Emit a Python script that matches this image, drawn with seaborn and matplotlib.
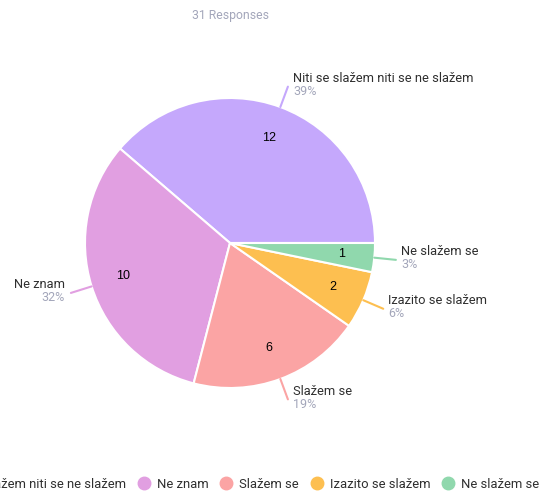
import numpy as np
import matplotlib.pyplot as plt
from matplotlib.lines import Line2D
import seaborn as sns

# data
categories = ["Niti se slažem niti se ne slažem", "Ne znam", "Slažem se",
              "Izazito se slažem", "Ne slažem se"]
counts = [12, 10, 6, 2, 1]
colors = ["#c5a8fc", "#e19fe1", "#fba4a4", "#fdbf50", "#90d8ad"]
title = "31 Responses"

sns.set_theme(style="white")
plt.rcParams['font.family'] = ['Roboto', 'DejaVu Sans']

fig = plt.figure(figsize=(5.4, 4.96), dpi=100)
ax = fig.add_axes([0, 0, 1, 1])

wedges, _ = ax.pie(counts, colors=colors, startangle=0, counterclock=True, radius=1,
                   wedgeprops=dict(edgecolor="white", linewidth=1.5))

# one data unit = 145 px, pie centre at (230, 243) px from top-left
PX = 1 / 145
ax.set_xlim(-230 * PX, 310 * PX)
ax.set_ylim(-253 * PX, 243 * PX)
ax.set_aspect("auto")
ax.axis("off")

total = sum(counts)
dark = "#2f2f2f"
grey = "#a3a6ba"
for w, cat, n, col in zip(wedges, categories, counts, colors):
    theta = np.deg2rad((w.theta1 + w.theta2) / 2)
    c, s = np.cos(theta), np.sin(theta)
    # count inside the slice
    ax.text(0.77 * c, 0.77 * s, str(n), ha="center", va="center",
            fontsize=9, color="black", family=["Liberation Sans", "DejaVu Sans"])
    # leader line and outside label
    ax.plot([1.0 * c, 1.15 * c], [1.0 * s, 1.15 * s], color=col, lw=1.5)
    ex, ey = 1.15 * c, 1.15 * s
    ha = "left" if c >= 0 else "right"
    tx = ex + (5 * PX if c >= 0 else -6 * PX)
    pct = f"{round(n / total * 100)}%"
    ax.text(tx, ey + 8 * PX, cat, ha=ha, va="center", fontsize=9.3, color=dark)
    ax.text(tx, ey - 5 * PX, pct, ha=ha, va="center", fontsize=9, color=grey)

fig.text(230 / 540, 1 - 15 / 496, title, ha="center", va="center",
         fontsize=8.8, color=grey)

handles = [Line2D([], [], marker="o", linestyle="", markersize=9,
                  markerfacecolor=col, markeredgecolor=col) for col in colors]
fig.legend(handles, categories, loc="center", ncol=5, frameon=False,
           bbox_to_anchor=(232 / 540, 1 - 484 / 496), fontsize=9.4,
           handlelength=1.0, handletextpad=0.5, columnspacing=0.85,
           labelcolor=dark)

fig.savefig("out.png", dpi=100)
